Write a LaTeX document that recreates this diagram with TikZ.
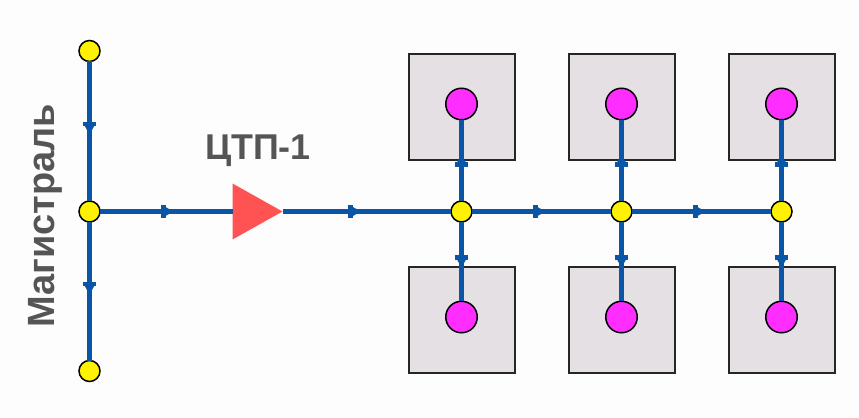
\documentclass[tikz,border=0pt]{standalone}
\usepackage{fontspec}
\setmainfont{Liberation Sans}
\usepackage{tikz}
\usetikzlibrary{shapes.geometric}
\definecolor{pipeblue}{RGB}{10,85,165}
\definecolor{housegray}{RGB}{228,224,228}
\definecolor{labelgray}{RGB}{85,85,85}
\definecolor{ctpred}{RGB}{255,82,82}
\definecolor{loadpink}{RGB}{255,45,255}
\definecolor{paper}{RGB}{253,253,253}
\tikzset{
  pipe/.style={draw=pipeblue,line width=1.0mm},
  junction/.style={circle,draw=black,line width=0.3mm,fill=yellow,minimum size=4.2mm,inner sep=0pt,outer sep=0pt},
  load/.style={circle,draw=black,line width=0.3mm,fill=loadpink,minimum size=6.3mm,inner sep=0pt,outer sep=0pt},
  house/.style={rectangle,draw=black!85,line width=0.4mm,fill=housegray,minimum size=21.2mm,inner sep=0pt},
  ctp/.style={isosceles triangle,isosceles triangle stretches,fill=ctpred,minimum height=10mm,minimum width=11.2mm,inner sep=0pt,outer sep=0pt},
  caption/.style={text=labelgray,font=\bfseries\fontsize{20.4}{24}\selectfont},
  flowmark/.pic={
    \fill[pipeblue] (-1.3mm,-1.3mm) rectangle (-0.4mm,1.3mm);
    \fill[pipeblue] (-0.6mm,1.0mm) -- (1.2mm,0) -- (-0.6mm,-1.0mm) -- cycle;
  }
}
\begin{document}
\begin{tikzpicture}[x=0.2mm,y=-0.2mm]
    \useasboundingbox[fill=paper] (0,0) rectangle (859,418);
    % houses
    \foreach \m/\xx in {1/462,2/622,3/782}
    {
      \node[house] (up\m) at (\xx,107) {};
      \node[house] (dn\m) at (\xx,320) {};
    }
    % main
    \node[junction] (top) at (89.5,51) {};
    \node[junction] (mid) at (89.5,211.5) {};
    \node[junction] (bot) at (89.5,371) {};
    \node[ctp,anchor=apex] (ctp1) at (282.5,211.5) {};
    \foreach \m/\xx in {1/461.5,2/621.5,3/781.5}
    {
      \node[junction] (j\m) at (\xx,211.5) {};
      \node[load] (a\m) at (\xx,104) {};
      \node[load] (b\m) at (\xx,317) {};
    }
    \draw[pipe] (top) -- pic[pos=0.48,sloped]{flowmark} (mid);
    \draw[pipe] (mid) -- pic[pos=0.48,sloped]{flowmark} (bot);
    \draw[pipe] (mid) -- pic[pos=0.51,sloped]{flowmark} (ctp1.lower side);
    \draw[pipe] (ctp1.apex) -- pic[pos=0.43,sloped]{flowmark} (j1);
    \draw[pipe] (j1) -- pic[pos=0.486,sloped]{flowmark} (j2);
    \draw[pipe] (j2) -- pic[pos=0.486,sloped]{flowmark} (j3);
    \foreach \m in {1,2,3}
    {
      \draw[pipe] (j\m) -- pic[pos=0.5,sloped]{flowmark} (a\m);
      \draw[pipe] (j\m) -- pic[pos=0.5,sloped]{flowmark} (b\m);
    }
    % labels
    \node[caption] (ctplabel) at (258,151) {ЦТП-1};
    \node[caption,font=\bfseries\fontsize{21.6}{24}\selectfont,rotate=90] (mainlabel) at (45,216) {Магистраль};
\end{tikzpicture}
\end{document}
